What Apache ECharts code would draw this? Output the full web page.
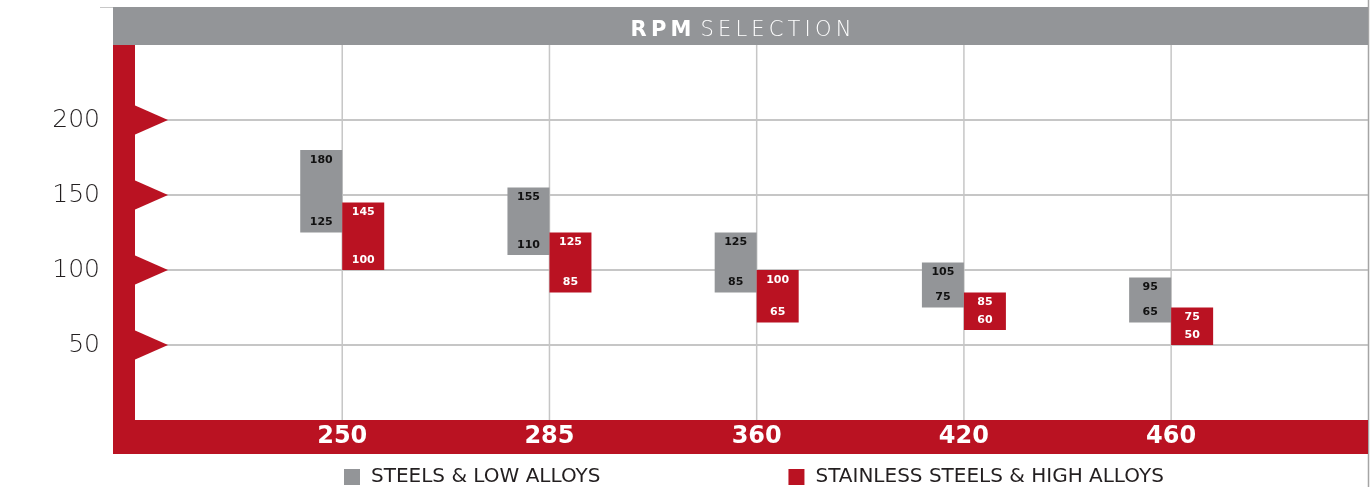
<!DOCTYPE html>
<html>
<head>
<meta charset="utf-8">
<script src="https://cdn.jsdelivr.net/npm/echarts@6/dist/echarts.min.js"></script>
<style>
  html, body { margin: 0; padding: 0; background: #fff; }
  #chart { width: 1372px; height: 487px; }
</style>
</head>
<body>
<div id="chart"></div>
<script>
// RPM categories and recommended speed ranges per material group
const rpmCategories = ['250', '285', '360', '420', '460'];
const steelLow = [125, 110, 85, 75, 65];
const steelHigh = [180, 155, 125, 105, 95];
const stainlessLow = [100, 85, 65, 60, 50];
const stainlessHigh = [145, 125, 100, 85, 75];
const yTickValues = [50, 100, 150, 200];
const seriesNames = ['STEELS & LOW ALLOYS', 'STAINLESS STEELS & HIGH ALLOYS'];
const titleBold = 'RPM';
const titleLight = 'SELECTION';

const GRAY = '#939598';
const RED = '#ba1222';
const FONT = '"DejaVu Sans", sans-serif';
const BAR_W = 42;
const Y_MAX = 250;

const spaced = (s) => s.split('').join('\u2009');

function rangeData(lows, highs) {
  return rpmCategories.map((c, i) => [i + 1, lows[i], highs[i]]);
}

// Floating range box beside the category line; side -1 = left, +1 = right
function rangeRenderer(side, fill, textColor) {
  return function (params, api) {
    const x = api.value(0), lo = api.value(1), hi = api.value(2);
    const top = api.coord([x, hi]);
    const bot = api.coord([x, lo]);
    const x0 = side < 0 ? top[0] - BAR_W : top[0];
    const cx = x0 + BAR_W / 2;
    const font = 'bold 11px ' + FONT;
    return {
      type: 'group',
      children: [
        { type: 'rect', shape: { x: x0, y: top[1], width: BAR_W, height: bot[1] - top[1] }, style: { fill: fill } },
        { type: 'text', style: { text: String(hi), x: cx, y: top[1] + 10, align: 'center', verticalAlign: 'middle', fill: textColor, font: font } },
        { type: 'text', style: { text: String(lo), x: cx, y: bot[1] - 10, align: 'center', verticalAlign: 'middle', fill: textColor, font: font } }
      ]
    };
  };
}

const chart = echarts.init(document.getElementById('chart'), null, { renderer: 'canvas' });

chart.setOption({
  animation: false,
  backgroundColor: '#fff',
  title: {
    text: '{b|' + spaced(titleBold) + '}\u2002{l|' + spaced(titleLight) + '}',
    left: 736,
    top: 26,
    textAlign: 'center',
    textVerticalAlign: 'middle',
    textStyle: {
      rich: {
        b: { fontFamily: FONT, fontWeight: 'bold', fontSize: 21, color: '#fff' },
        l: { fontFamily: FONT, fontWeight: 300, fontSize: 21, color: '#fff' }
      }
    }
  },
  graphic: [
    { type: 'line', z: -6, shape: { x1: 100, y1: 7.5, x2: 1368, y2: 7.5 }, style: { stroke: '#c8c8c8', lineWidth: 1 } },
    { type: 'line', z: -6, shape: { x1: 1368.5, y1: 0, x2: 1368.5, y2: 487 }, style: { stroke: '#a5a5a5', lineWidth: 1.5 } },
    { type: 'rect', z: -5, shape: { x: 113, y: 7, width: 1255, height: 38 }, style: { fill: GRAY } },
    { type: 'rect', z: -5, shape: { x: 113, y: 45, width: 22, height: 375 }, style: { fill: RED } },
    { type: 'rect', z: -5, shape: { x: 113, y: 420, width: 1255, height: 34 }, style: { fill: RED } }
  ],
  legend: {
    data: seriesNames,
    left: 339,
    top: 462,
    itemWidth: 16,
    itemHeight: 16,
    itemGap: 188,
    icon: 'rect',
    textStyle: { fontFamily: FONT, fontSize: 20, color: '#231f20', padding: [0, 0, 0, 6] }
  },
  grid: { left: 135, right: 4, top: 45, bottom: 67, containLabel: false },
  xAxis: {
    type: 'value',
    min: 0,
    max: 5.95,
    interval: 1,
    axisLine: { show: false },
    axisTick: { show: false },
    splitLine: { show: false },
    axisLabel: {
      margin: 4,
      fontFamily: FONT,
      fontSize: 24,
      fontWeight: 'bold',
      lineHeight: 26,
      color: '#fff',
      formatter: (v) => (Number.isInteger(v) && v >= 1 && v <= rpmCategories.length) ? rpmCategories[v - 1] : ''
    }
  },
  yAxis: {
    type: 'value',
    min: 0,
    max: Y_MAX,
    interval: 50,
    axisLine: { show: false },
    axisTick: { show: false },
    axisLabel: {
      margin: 35,
      fontFamily: FONT,
      fontSize: 25,
      fontWeight: 300,
      color: '#231f20',
      formatter: (v) => yTickValues.includes(v) ? String(v) : ''
    },
    splitLine: { show: true, showMinLine: false, showMaxLine: false, lineStyle: { color: '#b3b3b3', width: 1.5 } }
  },
  series: [
    {
      // vertical guide at each RPM category
      type: 'custom',
      name: 'guides',
      z: 1,
      silent: true,
      data: rpmCategories.map((c, i) => [i + 1]),
      renderItem: function (params, api) {
        const p = api.coord([api.value(0), 0]);
        const cs = params.coordSys;
        return { type: 'line', shape: { x1: p[0], y1: cs.y, x2: p[0], y2: cs.y + cs.height }, style: { stroke: '#c6c6c6', lineWidth: 1.5 } };
      }
    },
    {
      // red pointers on the axis bar at each tick
      type: 'custom',
      name: 'pointers',
      z: 3,
      silent: true,
      data: yTickValues.map((v) => [0, v]),
      renderItem: function (params, api) {
        const p = api.coord([0, api.value(1)]);
        return { type: 'polygon', shape: { points: [[p[0] - 1, p[1] - 15], [p[0] + 33, p[1]], [p[0] - 1, p[1] + 15]] }, style: { fill: RED } };
      }
    },
    {
      type: 'custom',
      name: seriesNames[0],
      z: 2,
      itemStyle: { color: GRAY },
      data: rangeData(steelLow, steelHigh),
      encode: { x: 0, y: [1, 2] },
      renderItem: rangeRenderer(-1, GRAY, '#111')
    },
    {
      type: 'custom',
      name: seriesNames[1],
      z: 2,
      itemStyle: { color: RED },
      data: rangeData(stainlessLow, stainlessHigh),
      encode: { x: 0, y: [1, 2] },
      renderItem: rangeRenderer(1, RED, '#fff')
    }
  ]
});
</script>
</body>
</html>
